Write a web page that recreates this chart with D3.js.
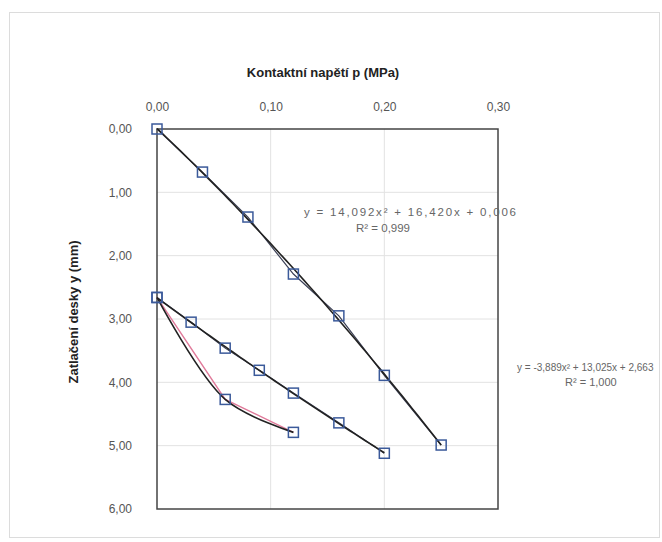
<!DOCTYPE html>
<html>
<head>
<meta charset="utf-8">
<script src="https://cdn.jsdelivr.net/npm/d3@7"></script>
<style>
  body { margin: 0; background: #fff; }
  svg { font-family: "Liberation Sans", Arial, sans-serif; }
</style>
</head>
<body>
<svg width="662" height="542"></svg>
<script>
// zatizeni (loading)
const s1x = [0, 0.04, 0.08, 0.12, 0.16, 0.20, 0.25];
const s1y = [0, 0.68, 1.39, 2.29, 2.95, 3.89, 4.99];
// odlehceni / opakovane zatizeni
const s2x = [0, 0.03, 0.06, 0.09, 0.12, 0.16, 0.20];
const s2y = [2.66, 3.05, 3.46, 3.81, 4.17, 4.64, 5.12];
const s3x = [0, 0.06, 0.12];
const s3y = [2.66, 4.27, 4.79];

const xTicks = [0, 0.1, 0.2, 0.3];
const yTicks = [0, 1, 2, 3, 4, 5, 6];
const eq1 = ["y = 14,092x² + 16,420x + 0,006", "R² = 0,999"];
const eq2 = ["y = -3,889x² + 13,025x + 2,663", "R² = 1,000"];

const svg = d3.select("svg");
const fmt = v => d3.format(".2f")(v).replace(".", ",");

const x = d3.scaleLinear().domain([0, 0.3]).range([157, 498]);
const y = d3.scaleLinear().domain([0, 6]).range([129, 509]);

// outer frame
svg.append("rect")
  .attr("x", 9.5).attr("y", 12.5).attr("width", 650).attr("height", 525)
  .attr("fill", "none").attr("stroke", "#dcdcdc");

// gridlines
svg.append("g").selectAll("line").data(yTicks.slice(1, -1)).join("line")
  .attr("x1", x(0)).attr("x2", x(0.3))
  .attr("y1", d => y(d)).attr("y2", d => y(d))
  .attr("stroke", "#e2e2e2");
svg.append("g").selectAll("line").data(xTicks.slice(1, -1)).join("line")
  .attr("y1", y(0)).attr("y2", y(6))
  .attr("x1", d => x(d)).attr("x2", d => x(d))
  .attr("stroke", "#e2e2e2");

svg.append("rect")
  .attr("x", x(0)).attr("y", y(0)).attr("width", x(0.3) - x(0)).attr("height", y(6) - y(0))
  .attr("fill", "none").attr("stroke", "#444").attr("stroke-width", 1.5);

// axes
const xAxis = svg.append("g").attr("transform", `translate(0,${y(0)})`)
  .call(d3.axisTop(x).tickValues(xTicks).tickFormat(fmt).tickSize(0).tickPadding(18));
const yAxis = svg.append("g").attr("transform", `translate(${x(0)},0)`)
  .call(d3.axisLeft(y).tickValues(yTicks).tickFormat(fmt).tickSize(0).tickPadding(25));
[xAxis, yAxis].forEach(g => {
  g.select(".domain").remove();
  g.selectAll("text").attr("font-size", 12).attr("fill", "#555")
    .attr("font-family", "Liberation Sans, Arial, sans-serif");
});

svg.append("text").attr("x", 323).attr("y", 77).attr("text-anchor", "middle")
  .attr("font-size", 13).attr("font-weight", "bold").attr("fill", "#222")
  .text("Kontaktní napětí p (MPa)");
svg.append("text").attr("transform", "translate(78,312) rotate(-90)").attr("text-anchor", "middle")
  .attr("font-size", 13).attr("font-weight", "bold").attr("fill", "#222")
  .text("Zatlačení desky y (mm)");

// quadratic least-squares fit (Excel polynomial trendline)
function polyfit2(xs, ys) {
  let s = [0, 0, 0, 0, 0], t = [0, 0, 0];
  xs.forEach((xi, i) => {
    for (let k = 0; k < 5; k++) s[k] += Math.pow(xi, k);
    for (let k = 0; k < 3; k++) t[k] += ys[i] * Math.pow(xi, k);
  });
  const A = [[s[0], s[1], s[2], t[0]], [s[1], s[2], s[3], t[1]], [s[2], s[3], s[4], t[2]]];
  for (let i = 0; i < 3; i++) {
    for (let j = i + 1; j < 3; j++) {
      const f = A[j][i] / A[i][i];
      for (let k = i; k < 4; k++) A[j][k] -= f * A[i][k];
    }
  }
  const c = [0, 0, 0];
  for (let i = 2; i >= 0; i--) {
    let v = A[i][3];
    for (let k = i + 1; k < 3; k++) v -= A[i][k] * c[k];
    c[i] = v / A[i][i];
  }
  return xv => c[0] + c[1] * xv + c[2] * xv * xv;
}

const line = d3.line().x(d => x(d[0])).y(d => y(d[1]));

function trend(xs, ys) {
  const f = polyfit2(xs, ys);
  const x0 = d3.min(xs), x1 = d3.max(xs);
  const pts = d3.range(0, 61).map(i => {
    const xv = x0 + (x1 - x0) * i / 60;
    return [xv, f(xv)];
  });
  svg.append("path").attr("d", line(pts))
    .attr("fill", "none").attr("stroke", "#222").attr("stroke-width", 1.6);
}

// data lines
svg.append("path").attr("d", line(d3.zip(s1x, s1y)))
  .attr("fill", "none").attr("stroke", "#3a3f55").attr("stroke-width", 1.2);
svg.append("path").attr("d", line(d3.zip(s2x, s2y)))
  .attr("fill", "none").attr("stroke", "#3a3f55").attr("stroke-width", 1.2);
svg.append("path").attr("d", line(d3.zip(s3x, s3y)))
  .attr("fill", "none").attr("stroke", "#e07a9a").attr("stroke-width", 1.4);

trend(s1x, s1y);
trend(s2x, s2y);

// smoothed line for the third series
svg.append("path")
  .attr("d", d3.line().x(d => x(d[0])).y(d => y(d[1])).curve(d3.curveCatmullRom.alpha(0.5))(d3.zip(s3x, s3y)))
  .attr("fill", "none").attr("stroke", "#222").attr("stroke-width", 1.6);

// markers
[[s1x, s1y], [s2x, s2y], [s3x, s3y]].forEach(([xs, ys]) => {
  svg.append("g").selectAll("rect").data(d3.zip(xs, ys)).join("rect")
    .attr("x", d => x(d[0]) - 5).attr("y", d => y(d[1]) - 5)
    .attr("width", 10).attr("height", 10)
    .attr("fill", "none").attr("stroke", "#3b5a9a").attr("stroke-width", 1.5);
});

// trendline equations
const eqStyle = t => t.attr("fill", "#666");
svg.append("text").attr("x", 304).attr("y", 216).text(eq1[0]).call(eqStyle)
  .attr("font-size", 11.5).attr("textLength", 212).attr("lengthAdjust", "spacing");
svg.append("text").attr("x", 356).attr("y", 232).text(eq1[1]).call(eqStyle)
  .attr("font-size", 11.5);
svg.append("text").attr("x", 517).attr("y", 371).text(eq2[0]).call(eqStyle)
  .attr("font-size", 10);
svg.append("text").attr("x", 565).attr("y", 386).text(eq2[1]).call(eqStyle)
  .attr("font-size", 11);
</script>
</body>
</html>
